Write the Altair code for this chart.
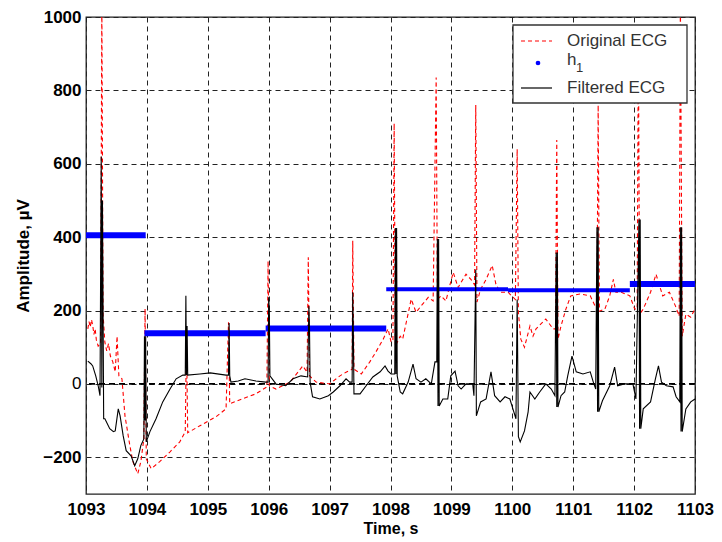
import altair as alt
import pandas as pd

# ---------------- data ----------------
red_t = [1093.03, 1093.05, 1093.07, 1093.09, 1093.11, 1093.13, 1093.15, 1093.17, 1093.20, 1093.24,
         1093.26, 1093.28, 1093.31, 1093.34, 1093.37, 1093.40, 1093.44, 1093.48, 1093.51, 1093.54,
         1093.59, 1093.64, 1093.72, 1093.77, 1093.85, 1093.90, 1093.95, 1093.97, 1093.99, 1094.07,
         1094.21, 1094.38, 1094.54, 1094.63, 1094.65, 1094.67, 1094.87, 1095.13, 1095.30, 1095.34,
         1095.36, 1095.66, 1095.79, 1095.97, 1095.99, 1096.01, 1096.12, 1096.35, 1096.48, 1096.56,
         1096.63, 1096.65, 1096.67, 1096.78, 1097.00, 1097.17, 1097.27, 1097.37, 1097.38, 1097.40,
         1097.52, 1097.66, 1097.76, 1097.88, 1097.96, 1098.01, 1098.04, 1098.06, 1098.08, 1098.16,
         1098.20, 1098.34, 1098.42, 1098.50, 1098.62, 1098.70, 1098.75, 1098.77, 1098.83, 1098.91,
         1098.97, 1099.03, 1099.11, 1099.24, 1099.32, 1099.38, 1099.40, 1099.42, 1099.48, 1099.57,
         1099.67, 1099.73, 1099.80, 1099.93, 1100.05, 1100.08, 1100.10, 1100.14, 1100.20, 1100.29,
         1100.34, 1100.39, 1100.55, 1100.67, 1100.71, 1100.73, 1100.75, 1100.80, 1100.88, 1100.96,
         1101.11, 1101.28, 1101.36, 1101.39, 1101.41, 1101.43, 1101.52, 1101.60, 1101.66, 1101.70,
         1101.79, 1101.93, 1102.01, 1102.05, 1102.07, 1102.09, 1102.15, 1102.27, 1102.36, 1102.47,
         1102.58, 1102.68, 1102.74, 1102.76, 1102.79, 1102.85, 1102.93, 1103.00]
red_v = [150, 170, 155, 175, 160, 135, 150, 120, 103, 110,
         1050, 190, 113, 90, 110, 76, 60, 33, 130, 22,
         14, -87, -168, -212, -245, -212, -150, 205, -204, -231,
         -212, -185, -158, -130, 130, -133, -114, -90, -68, 168,
         -54, -35, -27, -8, 335, -5, -14, 5, 32, 49,
         32, 345, 22, 5, 0, 22, 32, 40, 390, 40,
         27, 60, 87, 122, 150, 114, 120, 710, 103, 130,
         122, 231, 195, 212, 236, 226, 835, 231, 240, 226,
         266, 304, 263, 299, 285, 270, 760, 223, 258, 285,
         323, 272, 250, 250, 230, 640, 195, 122, 100, 158,
         130, 150, 177, 150, 150, 665, 122, 158, 204, 240,
         245, 240, 212, 212, 760, 198, 204, 240, 285, 250,
         250, 240, 204, 204, 960, 190, 204, 250, 299, 240,
         250, 212, 185, 1050, 130, 190, 182, 204]

blk_t = [1093.03, 1093.08, 1093.11, 1093.16, 1093.20, 1093.23, 1093.25, 1093.26, 1093.27, 1093.29,
         1093.31, 1093.39, 1093.45, 1093.48, 1093.53, 1093.56, 1093.61, 1093.66, 1093.74, 1093.80,
         1093.85, 1093.90, 1093.95, 1093.96, 1093.97, 1093.98, 1093.99, 1094.05, 1094.15, 1094.26,
         1094.38, 1094.48, 1094.59, 1094.63, 1094.64, 1094.65, 1094.66, 1094.67, 1094.87, 1095.04,
         1095.30, 1095.34, 1095.35, 1095.36, 1095.38, 1095.50, 1095.61, 1095.79, 1095.95, 1095.99,
         1096.00, 1096.01, 1096.02, 1096.12, 1096.28, 1096.40, 1096.53, 1096.64, 1096.66, 1096.67,
         1096.68, 1096.72, 1096.84, 1096.98, 1097.06, 1097.17, 1097.27, 1097.33, 1097.37, 1097.38,
         1097.39, 1097.40, 1097.50, 1097.60, 1097.71, 1097.83, 1097.91, 1097.96, 1098.01, 1098.07,
         1098.08, 1098.09, 1098.10, 1098.11, 1098.16, 1098.20, 1098.29, 1098.37, 1098.42, 1098.50,
         1098.58, 1098.67, 1098.73, 1098.76, 1098.77, 1098.78, 1098.79, 1098.80, 1098.86, 1098.94,
         1098.99, 1099.06, 1099.11, 1099.16, 1099.24, 1099.35, 1099.37, 1099.40, 1099.41, 1099.48,
         1099.57, 1099.65, 1099.71, 1099.80, 1099.88, 1099.96, 1100.01, 1100.06, 1100.08, 1100.10,
         1100.13, 1100.20, 1100.26, 1100.29, 1100.37, 1100.45, 1100.55, 1100.64, 1100.70, 1100.72,
         1100.73, 1100.74, 1100.75, 1100.80, 1100.86, 1100.91, 1100.98, 1101.05, 1101.16, 1101.28,
         1101.33, 1101.37, 1101.39, 1101.40, 1101.41, 1101.42, 1101.48, 1101.60, 1101.68, 1101.73,
         1101.84, 1101.98, 1102.03, 1102.08, 1102.09, 1102.10, 1102.11, 1102.15, 1102.27, 1102.35,
         1102.40, 1102.45, 1102.53, 1102.64, 1102.69, 1102.75, 1102.76, 1102.77, 1102.78, 1102.79,
         1102.85, 1102.93, 1103.00]
blk_v = [62, 55, 49, 22, -5, -32, 620, -10, 500, -95,
         -95, -122, -130, -128, -68, -87, -141, -182, -196, -223,
         -204, -168, -150, 130, -100, 130, -158, -130, -95, -49,
         -14, 14, 24, 24, 240, 24, 158, 24, 27, 30,
         24, 24, 166, 22, 5, 8, 14, 8, 5, 5,
         236, 200, 22, 0, -5, 14, 22, 19, 212, 150,
         5, -35, -41, -32, -22, -5, 14, 5, 5, 250,
         140, -27, -27, -5, 19, 33, 49, 35, 27, 27,
         425, 27, 425, 22, -22, -27, 5, 54, 14, 5,
         14, 0, 60, 60, 395, -60, 395, -60, -41, -41,
         22, 35, -5, -14, 0, 0, -32, 312, -87, -49,
         -41, 33, -32, -49, -35, -41, -68, -95, 230, -144,
         -158, -128, -76, -22, -41, -22, 0, -14, -32, 358,
         -63, 358, -63, -32, -22, 22, 76, 33, 27, 33,
         5, -14, 427, -76, 427, -76, -46, -5, 46, -5,
         0, 0, -41, 448, -122, 448, -122, -68, -49, 14,
         49, 5, -5, -8, -35, -49, 427, -130, 427, -130,
         -68, -49, -41]

h1_start = [1093.0, 1093.96, 1095.95, 1097.93, 1099.93, 1101.93]
h1_end = [1093.98, 1095.95, 1097.93, 1099.93, 1101.93, 1103.0]
h1_val = [405, 138, 151, 258, 255, 272]

zero_line = [0]
x_ticks = list(range(1093, 1104))
y_ticks = [-200, 0, 200, 400, 600, 800, 1000]
legend_labels = ["Original ECG", "h", "Filtered ECG"]
h1_subscript = "1"

# ---------------- tables ----------------
red_df = pd.DataFrame({"t": red_t, "v": red_v, "i": list(range(len(red_t)))})
blk_df = pd.DataFrame({"t": blk_t, "v": blk_v, "i": list(range(len(blk_t)))})
h1_df = pd.DataFrame({"t0": h1_start, "t1": h1_end, "v": h1_val})
zero_df = pd.DataFrame({"v": zero_line})

FONT = "Liberation Sans"
xs = alt.Scale(domain=[1093, 1103], nice=False, zero=False)
ys = alt.Scale(domain=[-300, 1000], nice=False, zero=False)

x_axis = alt.Axis(values=x_ticks, format="d", title="Time, s", grid=True,
                  gridDash=[5, 4], gridColor="#222", gridOpacity=1, gridWidth=1,
                  ticks=False, domain=False, labelFont=FONT, labelFontSize=17,
                  labelFontWeight="bold", labelColor="#000", labelPadding=7,
                  titleFont=FONT, titleFontSize=16, titleFontWeight="bold",
                  titleColor="#000", titlePadding=3, labelFlush=False)
y_axis = alt.Axis(values=y_ticks, format="d", title="Amplitude, \u00b5V", grid=True,
                  gridDash=[5, 4], gridColor="#222", gridOpacity=1, gridWidth=1,
                  ticks=False, domain=False, labelFont=FONT, labelFontSize=17,
                  labelFontWeight={"condition": {"test": "datum.value == 0", "value": "normal"}, "value": "bold"},
                  labelColor="#000", labelPadding=5,
                  titleFont=FONT, titleFontSize=17, titleFontWeight="bold",
                  titleColor="#000", titlePadding=10, labelFlush=False)

X = lambda f: alt.X(f, type="quantitative", scale=xs, axis=x_axis)
Y = lambda f: alt.Y(f, type="quantitative", scale=ys, axis=y_axis)

zero = alt.Chart(zero_df).mark_rule(color="#000", strokeDash=[6, 4], strokeWidth=1.6).encode(
    y=Y("v"))

red = alt.Chart(red_df).mark_line(color="#ff0000", strokeDash=[4, 3], strokeWidth=1.1,
                                  clip=True).encode(x=X("t"), y=Y("v"), order="i:Q")

h1 = alt.Chart(h1_df).mark_rule(color="#0000ff", strokeCap="butt").encode(
    x=X("t0"), x2="t1", y=Y("v"),
    strokeWidth=alt.condition("datum.t0 > 1097.5 && datum.t0 < 1101", alt.value(4), alt.value(6)))

blk = alt.Chart(blk_df).mark_line(color="#000", strokeWidth=1.1, clip=True).encode(
    x=X("t"), y=Y("v"), order="i:Q")

# ---------------- legend box ----------------
one = alt.Data(values=[{"a": 1}])
box = alt.Chart(one).mark_rect(fill="white", stroke="#333", strokeWidth=1.3).encode(
    x=alt.value(427), x2=alt.value(601), y=alt.value(8), y2=alt.value(86))
leg_red = alt.Chart(one).mark_rule(color="#ff0000", strokeDash=[4, 3], strokeWidth=1.2).encode(
    x=alt.value(435), x2=alt.value(466), y=alt.value(24))
leg_blue = alt.Chart(one).mark_point(filled=True, color="#0000ff", size=22, opacity=1).encode(
    x=alt.value(452), y=alt.value(46))
leg_blk = alt.Chart(one).mark_rule(color="#000", strokeWidth=1.2).encode(
    x=alt.value(435), x2=alt.value(466), y=alt.value(71))


def txt(s, xx, yy, size):
    return alt.Chart(one).mark_text(align="left", baseline="middle", font=FONT,
                                    fontSize=size, color="#333").encode(
        x=alt.value(xx), y=alt.value(yy), text=alt.value(s))


chart = alt.layer(
    zero, red, h1, blk, box, leg_red, leg_blue, leg_blk,
    txt(legend_labels[0], 481, 24, 17), txt(legend_labels[1], 481, 43, 17),
    txt(h1_subscript, 490, 51, 13), txt(legend_labels[2], 481, 71, 17)
).properties(
    width=609, height=477,
    autosize=alt.AutoSizeParams(type="none"),
    padding={"left": 78, "top": 9, "right": 19, "bottom": 44},
    background="white",
).configure_view(stroke="#222", strokeWidth=1.3)

chart.save("out.html", embed_options={"renderer": "svg", "actions": False})
